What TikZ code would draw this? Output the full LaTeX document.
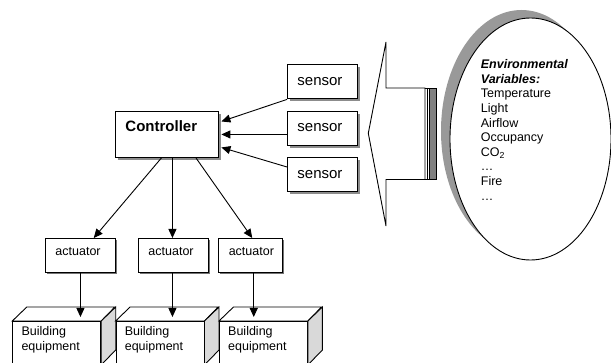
\documentclass[tikz,border=0pt]{standalone}
\usepackage{fontspec}
\setmainfont{Liberation Sans}
\usetikzlibrary{arrows.meta,shapes.geometric,shadows,calc}
\begin{document}
\begin{tikzpicture}[x=1pt,y=-1pt,
  shd/.style={general shadow={shadow xshift=2.5pt,shadow yshift=-2.5pt,fill=black!45}},
  smallshd/.style={general shadow={shadow xshift=1.5pt,shadow yshift=-1.5pt,fill=black!55}},
  box/.style={draw=black,line width=0.9pt,fill=white,rectangle,inner xsep=10pt,inner ysep=0pt,align=left,anchor=north west},
  bigfont/.style={font=\fontsize{15}{17}\selectfont},
  smallfont/.style={font=\fontsize{12.5}{14.6}\selectfont},
  sensorbox/.style={box,shd,bigfont,text width=50pt,text height=20.3pt,text depth=13.7pt},
  ctrlbox/.style={box,shd,bigfont,text width=83pt,text height=20pt,text depth=26pt},
  actbox/.style={box,smallshd,smallfont,text height=16.6pt,text depth=17.4pt},
  front/.style={draw=black,line width=0.9pt,fill=white,rectangle,inner sep=0pt,anchor=north west,minimum width=88pt,minimum height=43pt},
  face/.style={draw=black,line width=0.9pt,line join=miter},
  btext/.style={smallfont,anchor=north west,inner sep=0pt,align=left},
  arr/.style={line width=0.9pt,-{Triangle[length=9pt,width=8pt]}},
]
\useasboundingbox (0,0) rectangle (611,363);
\clip (0,0) rectangle (611,363);

% sensors and controller
\node[sensorbox] (s1) at (287,64.5) {sensor};
\node[sensorbox] (s2) at (287,111) {sensor};
\node[sensorbox] (s3) at (287,157.5) {sensor};
\node[ctrlbox] (ctrl) at (115,111) {\bfseries Controller};

% actuators
\node[actbox,text width=50pt] (a1) at (45,238) {actuator};
\node[actbox,text width=50pt] (a2) at (138,238) {actuator};
\node[actbox,text width=44pt] (a3) at (218.3,238) {actuator};

% sensor -> controller
\draw[arr] (s1.south west) -- ($(ctrl.east)+(2.5,-13)$);
\draw[arr] (s2.west |- ctrl.east) -- ($(ctrl.east)+(2.5,0)$);
\draw[arr] ($(s3.north west)+(0,9.5)$) -- ($(ctrl.east)+(2.5,13)$);

% controller -> actuators
\draw[arr] ($(ctrl.south)+(-5.5,0)$) -- ($(a1.north)+(13.3,0)$);
\draw[arr] ($(ctrl.south)+(5.5,0)$) -- ($(a2.north)+(-1,0)$);
\draw[arr] ($(ctrl.south)+(29,0)$) -- ($(a3.north)+(1.5,0)$);

% building equipment
\foreach \i/\x in {1/12.3,2/115.6,3/219} {
  \node[front] (b\i) at (\x,321) {};
  \draw[face,fill=white] (b\i.north west) -- ++(14.5,-14) -- ++(88,0) -- (b\i.north east) -- cycle;
  \draw[face,fill=black!15] (b\i.north east) -- ++(14.5,-14) -- ++(0,43) -- (b\i.south east) -- cycle;
  \node[btext] (bt\i) at ($(b\i.north west)+(9,5.3)$) {Building\\equipment};
}

% actuators -> building equipment
\draw[arr] (a1.south) -- ($(a1.south |- b1.north)+(0,-4)$);
\draw[arr] ($(a2.south)+(-1,0)$) -- ($(a2.south |- b2.north)+(-1,-4)$);
\draw[arr] ($(a3.south)+(3,0)$) -- ($(a3.south |- b3.north)+(3,-4)$);

% big arrow
\draw[line width=0.9pt,line join=miter,fill=white]
  (425,88) -- (386,88) -- (386,42) -- (368.3,133.3) -- (386,226) -- (386,179.5) -- (425,179.5) -- cycle;
\draw[line width=0.6pt] (425,88) -- (436,88) (425,179.5) -- (436,179.5) (427.3,88) -- (427.3,179.5);
\draw[line width=0.6pt,fill=black!50] (429.6,88) rectangle (436,179.5);

% environment ellipse
\node[ellipse,draw=black,line width=0.9pt,fill=white,minimum width=161pt,minimum height=242pt,inner sep=0pt,
  general shadow={shadow xshift=-9pt,shadow yshift=8pt,fill=black!40}] (env) at (530.5,139) {};
\node[btext] (envtxt) at (480.7,59.5) {{\bfseries\itshape Environmental}\\{\bfseries\itshape Variables:}\\Temperature\\Light\\Airflow\\Occupancy\\CO\textsubscript{2}\\…\\Fire\\…};
\end{tikzpicture}
\end{document}
